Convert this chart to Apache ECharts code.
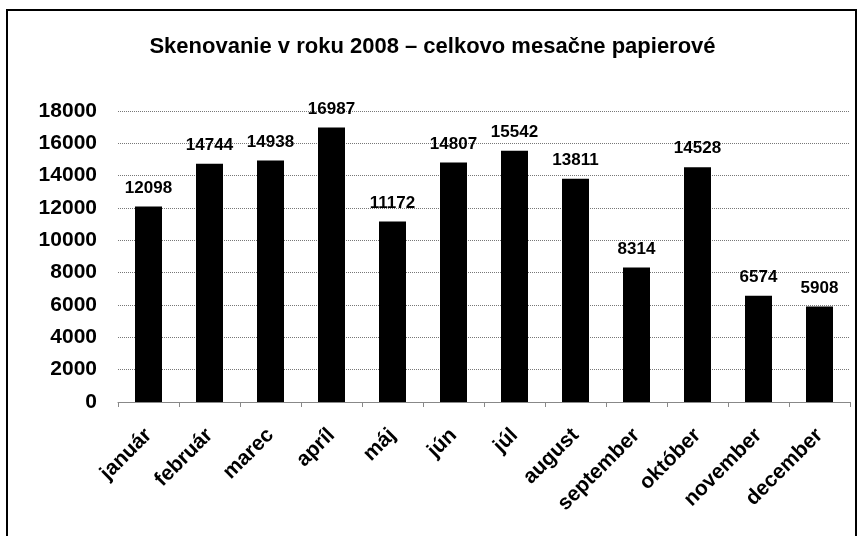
<!DOCTYPE html>
<html><head><meta charset="utf-8">
<script src="https://cdn.jsdelivr.net/npm/echarts@6/dist/echarts.min.js"></script>
<style>
html,body{margin:0;padding:0;background:#fff;overflow:hidden;}
#frame{position:absolute;left:6px;top:9px;width:851px;height:560px;border:2px solid #000;box-sizing:border-box;}
#c{position:absolute;left:0;top:0;width:865px;height:536px;}
</style></head>
<body>
<div id="frame"></div>
<div id="c"></div>
<script>
const categories = ['január','február','marec','apríl','máj','jún','júl','august','september','október','november','december'];
const values = [12098,14744,14938,16987,11172,14807,15542,13811,8314,14528,6574,5908];
const titleText = 'Skenovanie v roku 2008 – celkovo mesačne papierové';

const chart = echarts.init(document.getElementById('c'));
const font = 'Liberation Sans, Arial, sans-serif';
chart.setOption({
  animation:false,
  title:{text:titleText,left:'center',top:31,textStyle:{fontFamily:font,fontSize:22,fontWeight:'bold',color:'#000'}},
  grid:{left:118,right:15,top:111,bottom:134},
  xAxis:{type:'category',data:categories,
    axisLine:{lineStyle:{color:'#888',width:1}},
    axisTick:{show:true,lineStyle:{color:'#888'},length:5},
    axisLabel:{rotate:45,fontFamily:font,fontSize:21,fontWeight:'bold',color:'#000',margin:30,interval:0}},
  yAxis:{type:'value',min:0,max:18000,interval:2000,
    axisLine:{show:false},axisTick:{show:false},
    splitLine:{lineStyle:{color:'#777',type:[1,1],width:1}},
    axisLabel:{fontFamily:font,fontSize:21,fontWeight:'bold',color:'#000',margin:21,formatter:v=>String(v)}},
  series:[{type:'bar',data:values,barWidth:27,
    itemStyle:{color:'#000'},
    label:{show:true,position:'top',distance:10,fontFamily:font,fontSize:17,fontWeight:'bold',color:'#000'}}]
});
</script>
</body></html>
